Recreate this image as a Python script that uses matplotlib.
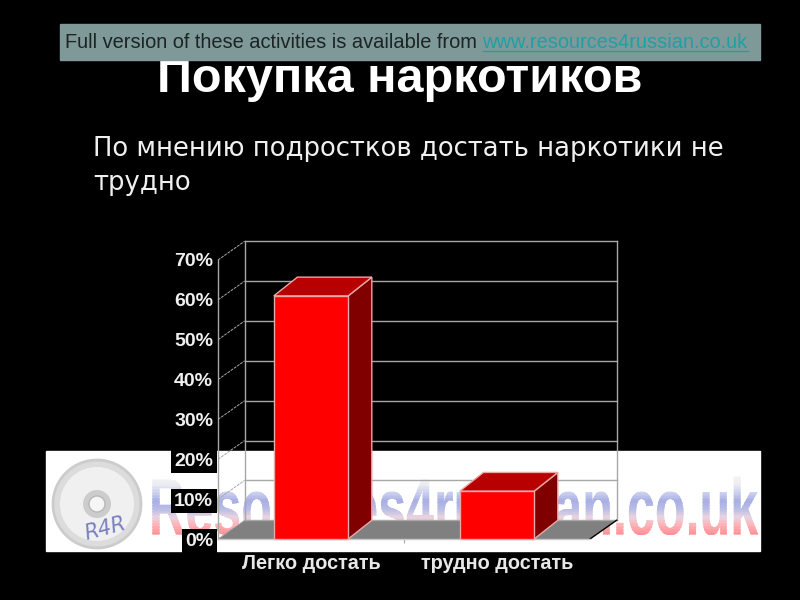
import matplotlib
matplotlib.use('Agg')
import matplotlib.pyplot as plt
import matplotlib.patheffects as pe
from matplotlib.colors import LinearSegmentedColormap
from matplotlib.patches import Rectangle, Circle, Polygon
from matplotlib.transforms import Affine2D, Bbox

categories = ['Легко достать', 'трудно достать']
values = [61, 12]
ticks = [0, 10, 20, 30, 40, 50, 60, 70]
tick_labels = ['0%', '10%', '20%', '30%', '40%', '50%', '60%', '70%']

title = 'Покупка наркотиков'
subtitle = 'По мнению подростков достать наркотики не\nтрудно'
notice = 'Full version of these activities is available from '
link = 'www.resources4russian.co.uk'
watermark = 'Resources4russian.co.uk'
# colours of the watermark, top to bottom
stripe_colors = ['#f4f4f4', '#ececf2', '#ccd0ee', '#a8aee4', '#b8bce6', '#e8d4e0', '#ffb0b4', '#ff9298']


# draws a text taller than the font, filled with a vertical colour fade
class TallFade(pe.AbstractPathEffect):
    def __init__(self, stretch, n=40):
        super().__init__()
        self.stretch = stretch
        self.n = n
        self.cmap = LinearSegmentedColormap.from_list('wm', stripe_colors)

    def draw_path(self, renderer, gc, tpath, affine, rgbFace=None):
        base = tpath.get_extents(affine).y0
        tall = affine + Affine2D().translate(0, -base).scale(1, self.stretch).translate(0, base)
        box = tpath.get_extents(tall)
        h = box.height / self.n
        for i in range(self.n):
            gc0 = renderer.new_gc()
            gc0.copy_properties(gc)
            gc0.set_clip_rectangle(Bbox([[box.x0 - 2, box.y1 - (i + 1) * h], [box.x1 + 2, box.y1 - i * h + 1]]))
            gc0.set_linewidth(0)
            renderer.draw_path(gc0, tpath, tall, self.cmap(i / (self.n - 1))[:3])
            gc0.restore()


fig = plt.figure(figsize=(8, 6), dpi=100, facecolor='black')

# slide layer in pixels
bg = fig.add_axes([0, 0, 1, 1], zorder=1)
bg.set_xlim(0, 800)
bg.set_ylim(600, 0)
bg.axis('off')

bg.add_patch(Rectangle((46, 451), 714, 100, color='white', zorder=1))
bg.add_patch(Circle((97, 504), 44, fc='#dcdcdc', ec='#cccccc', lw=2, zorder=2))
bg.add_patch(Circle((97, 504), 37, fc='#f0f0f0', ec='none', zorder=2))
bg.add_patch(Circle((97, 504), 14, fc='#cccccc', ec='none', zorder=2))
bg.add_patch(Circle((97, 504), 8, fc='#f6f6f6', ec='#b8b8b8', lw=1, zorder=2))
bg.text(105, 529, 'R4R', color='#7a80c0', fontsize=15, family='DejaVu Sans', style='oblique',
        ha='center', va='center', rotation=15, zorder=3)
wm = bg.text(149, 535, watermark, fontsize=36.2, family='Liberation Sans', weight='bold',
             ha='left', va='baseline', zorder=2)
wm.set_path_effects([TallFade(1.6)])

bg.text(400, 80, title, color='white', fontsize=35, family='Liberation Sans', weight='bold',
        ha='center', va='center', zorder=3)
bg.text(93, 166, subtitle, color='#f0f0f0', fontsize=18.6, family='DejaVu Sans',
        ha='left', va='center', linespacing=1.4, zorder=3)

# chart layer, the axes box is the front plane of the 3D chart
ax = fig.add_axes([218 / 800, 61 / 600, 372 / 800, 279 / 600], zorder=2)
ax.patch.set_alpha(0)
ax.set_xlim(-0.5, 1.5)
ax.set_ylim(0, 70)
for s in ax.spines.values():
    s.set_visible(False)

dx = 0.143
dy = 4.7
wall = '#a8a8a8'

# floor
ax.add_patch(Polygon([(-0.5, 0), (1.5, 0), (1.5 + dx, dy), (-0.5 + dx, dy)], fc='#808080', ec='none', clip_on=False, zorder=1))
ax.plot([1.5, 1.5 + dx], [0, dy], color='black', lw=1, clip_on=False, zorder=2)

# walls and grid
for t in ticks:
    ax.plot([-0.5 + dx, 1.5 + dx], [t + dy, t + dy], color=wall, lw=1, clip_on=False, zorder=1)
    ax.plot([-0.5, -0.5 + dx], [t, t + dy], color=wall, lw=0.7, ls=(0, (3, 1)), clip_on=False, zorder=1)
ax.plot([-0.5, -0.5], [0, 70], color=wall, lw=1, clip_on=False, zorder=2)
ax.plot([-0.5 + dx, -0.5 + dx], [dy, 70 + dy], color=wall, lw=1, clip_on=False, zorder=1)
ax.plot([1.5 + dx, 1.5 + dx], [dy, 70 + dy], color=wall, lw=1, clip_on=False, zorder=1)
ax.plot([-0.5, 1.5], [0, 0], color='#c8c8c8', lw=1, clip_on=False, zorder=2)

# bars
w = 0.4
bd = 0.127
edge = '#e8a8a8'
for i, v in enumerate(values):
    ax.bar(i, v, width=w, color='#ff0000', edgecolor=edge, lw=1, zorder=4, clip_on=False)
    r = i + w / 2
    l = i - w / 2
    ax.add_patch(Polygon([(r, 0), (r + bd, dy), (r + bd, v + dy), (r, v)], fc='#800000', ec=edge, lw=1, clip_on=False, zorder=3))
    ax.add_patch(Polygon([(l, v), (r, v), (r + bd, v + dy), (l + bd, v + dy)], fc='#b80000', ec=edge, lw=1, clip_on=False, zorder=3))

ax.set_yticks(ticks)
ax.set_yticklabels(tick_labels)
ax.set_xticks([0.5])
ax.set_xticklabels([''])
ax.tick_params(axis='x', length=3, color=wall, direction='out')
ax.tick_params(axis='y', length=0, pad=3.5)
for lab in ax.get_yticklabels():
    lab.set(color='#f0f0f0', fontsize=14, family='Liberation Sans', weight='bold')
    lab.set_bbox(dict(fc='black', ec='none', pad=2.5))

for i, c in enumerate(categories):
    ax.annotate(c, (i, 0), xytext=(0, -17.5), textcoords='offset points', ha='center', va='center',
                color='#e8e8e8', fontsize=14.3, family='Liberation Sans', weight='bold', annotation_clip=False)

# notice bar on top of everything
top = fig.add_axes([0, 0, 1, 1], zorder=3)
top.set_xlim(0, 800)
top.set_ylim(600, 0)
top.axis('off')
top.add_patch(Rectangle((60, 24), 700, 36, color='#7f9999'))
t1 = top.text(65, 42, notice, color='#1c2424', fontsize=14.45, family='Liberation Sans', ha='left', va='center')
fig.canvas.draw()
x1 = top.transData.inverted().transform((t1.get_window_extent().x1, 0))[0]
t2 = top.text(x1, 42, link, color='#1fa0a4', fontsize=14.45, family='Liberation Sans', ha='left', va='center')
fig.canvas.draw()
e = t2.get_window_extent()
x2 = top.transData.inverted().transform((e.x1, 0))[0]
top.plot([x1, x2], [51, 51], color='#1fa0a4', lw=1)

fig.savefig('out.png', dpi=100, facecolor='black')
